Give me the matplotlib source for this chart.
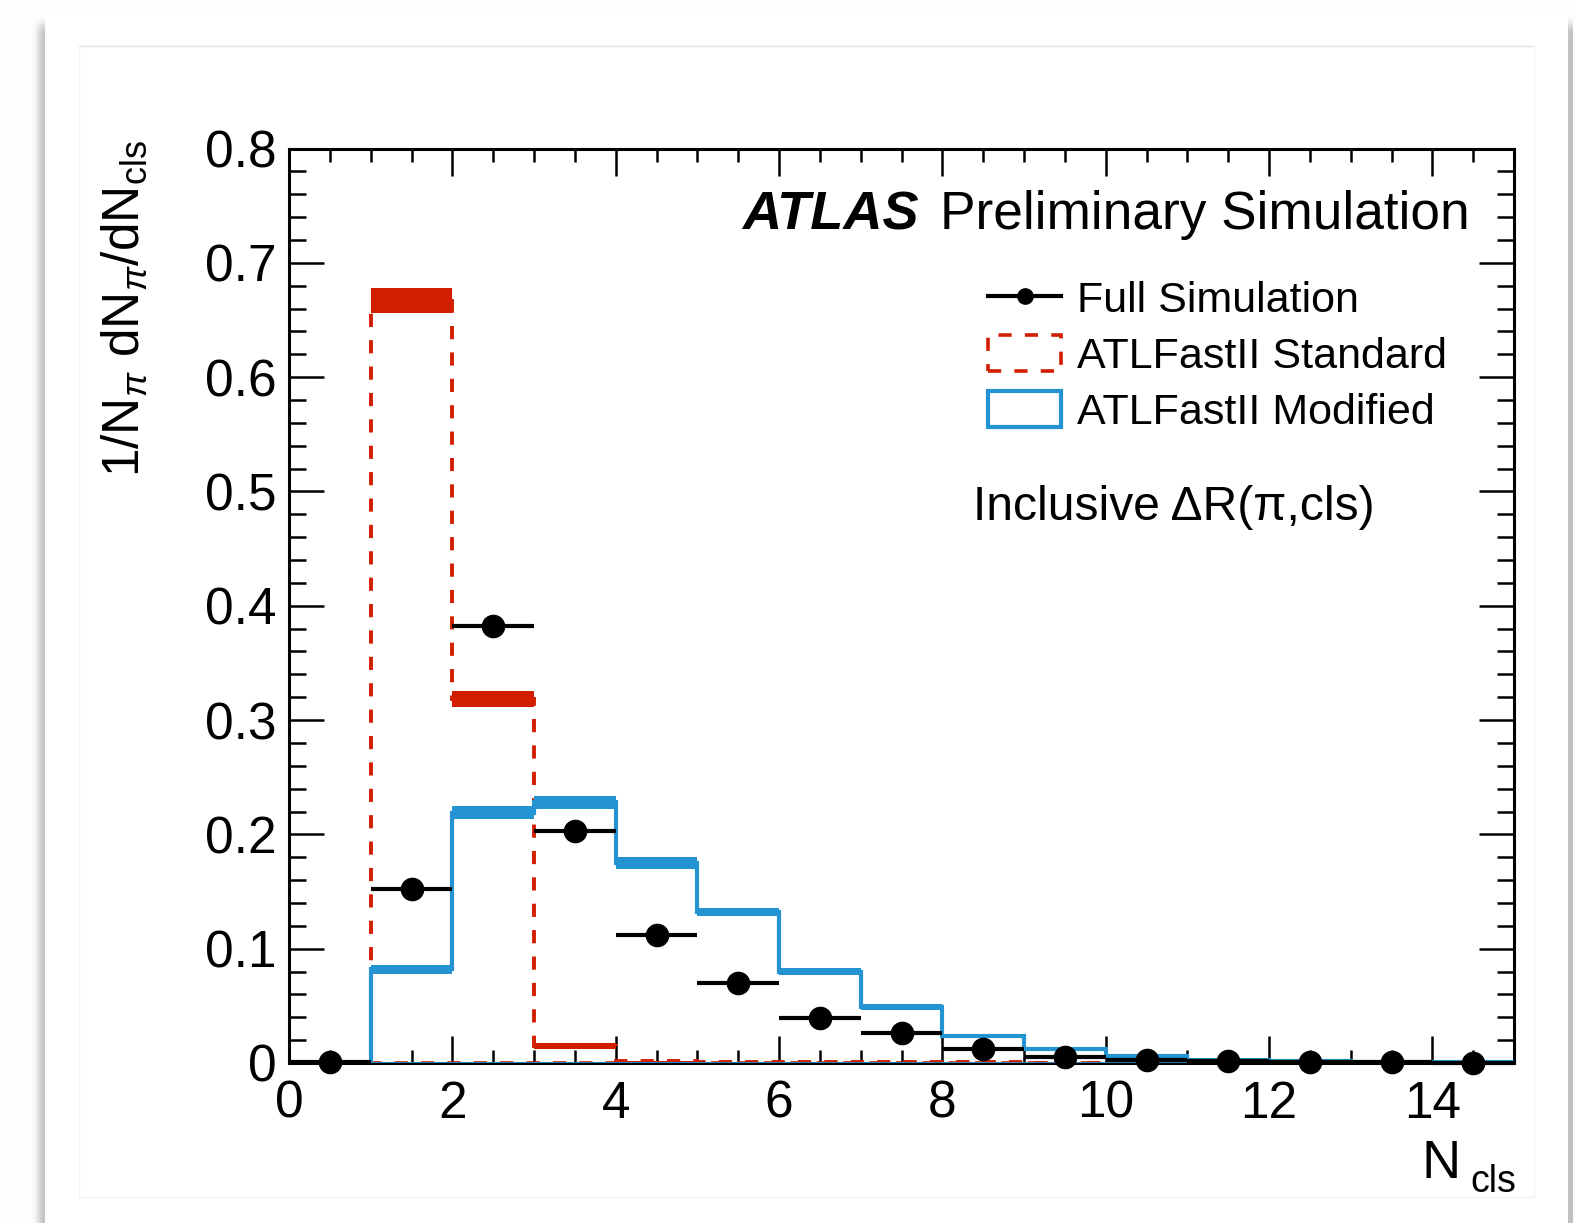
import numpy as np
import matplotlib
matplotlib.use("Agg")
import matplotlib.pyplot as plt
from matplotlib.lines import Line2D
from matplotlib.patches import Patch

plt.rcParams["font.family"] = ["Liberation Sans", "DejaVu Sans"]
plt.rcParams["mathtext.fontset"] = "custom"
plt.rcParams["mathtext.rm"] = "Liberation Sans"
plt.rcParams["mathtext.it"] = "Liberation Sans:italic"
plt.rcParams["mathtext.bf"] = "Liberation Sans:bold"
plt.rcParams["lines.scale_dashes"] = False

# ---- data: normalised N_cls distributions -------------------------------
bin_edges = np.arange(0, 16)
bin_centers = bin_edges[:-1] + 0.5

full_sim = [0.0005, 0.152, 0.382, 0.203, 0.112, 0.070, 0.039, 0.026,
            0.012, 0.005, 0.003, 0.0015, 0.001, 0.0006, 0.0004]

afii_standard = [0.0, 0.667, 0.318, 0.015, 0.0015, 0.001, 0.0008, 0.0006,
                 0.0005, 0.0004, 0.0003, 0.0002, 0.0001, 0.0001, 0.0]
afii_standard_err = [0.0, 0.011, 0.007, 0.0025, 0.0003, 0.0002, 0.0002, 0.0001,
                     0.0001, 0.0001, 0.0001, 0.0, 0.0, 0.0, 0.0]

afii_modified = [0.0, 0.082, 0.219, 0.228, 0.175, 0.132, 0.080, 0.049,
                 0.0235, 0.012, 0.006, 0.003, 0.0015, 0.001, 0.0005]
afii_modified_err = [0.0, 0.004, 0.0057, 0.006, 0.0053, 0.0038, 0.003, 0.0025,
                     0.002, 0.0015, 0.001, 0.001, 0.0007, 0.0005, 0.0004]

x_ticks = [0, 2, 4, 6, 8, 10, 12, 14]
y_ticks = [0, 0.1, 0.2, 0.3, 0.4, 0.5, 0.6, 0.7, 0.8]
y_tick_labels = ["0", "0.1", "0.2", "0.3", "0.4", "0.5", "0.6", "0.7", "0.8"]

RED = "#d21e00"
BLUE = "#2394d1"

W, H = 1573, 1223
fig = plt.figure(figsize=(W / 100, H / 100), dpi=100)

# ---- page background with a soft drop shadow -----------------------------
yy, xx = np.mgrid[0:H, 0:W]
sx = 0.5 * (np.tanh((xx - 38) / 4.0) - np.tanh((xx - 1590) / 4.0))
sy = 0.5 * (1 + np.tanh((yy - 24) / 6.0))
shade = 1 - 0.24 * sx * sy
page = (xx >= 45) & (xx < 1568) & (yy >= 13)
shade[page] = 1.0
bgax = fig.add_axes([0, 0, 1, 1], zorder=-10)
bgax.imshow(np.dstack([shade] * 3), extent=(0, W, H, 0), aspect="auto",
            interpolation="nearest")
bgax.plot([79, 1534], [46, 46], color="0.88", lw=1.0)
bgax.plot([79, 79], [46, 1197], color="0.96", lw=1.0)
bgax.plot([79, 1534], [1197, 1197], color="0.95", lw=1.0)
bgax.plot([1534, 1534], [46, 1197], color="0.96", lw=1.0)
bgax.set_xlim(0, W)
bgax.set_ylim(H, 0)
bgax.axis("off")

# ---- main frame ------------------------------------------------------------
AX_L, AX_R, AX_T, AX_B = 289, 1514, 148.5, 1063
ax = fig.add_axes([AX_L / W, 1 - AX_B / H, (AX_R - AX_L) / W, (AX_B - AX_T) / H])
ax.set_xlim(0, 15)
ax.set_ylim(0, 0.8)

# ATLFastII Standard: dashed outline with uncertainty band
std = np.asarray(afii_standard)
std_err = np.asarray(afii_standard_err)
ax.stairs(std, bin_edges, baseline=0, color=RED, lw=2.8, ls=(0, (9.5, 9.5)),
          zorder=2)
ax.hlines(0, bin_edges[0], bin_edges[-1], color=RED, lw=2.6,
          ls=(0, (9.5, 9.5)), zorder=2)
ax.bar(bin_centers, 2 * std_err, bottom=std - std_err, width=1.0,
       color=RED, lw=0, zorder=3)

# ATLFastII Modified: solid outline with uncertainty band
mod = np.asarray(afii_modified)
mod_err = np.asarray(afii_modified_err)
ax.stairs(mod, bin_edges, baseline=0, color=BLUE, lw=3.0, zorder=4)
ax.hlines(0, bin_edges[0], bin_edges[-1], color=BLUE, lw=2.0, zorder=4)
ax.bar(bin_centers, 2 * mod_err, bottom=mod - mod_err, width=1.0,
       color=BLUE, lw=0, zorder=5)

# Full simulation: markers with bin-width horizontal bars
ax.errorbar(bin_centers, full_sim, xerr=0.5, fmt="o", color="black",
            ms=16, elinewidth=3.0, capsize=0, zorder=6, clip_on=False)

# ---- axes styling ----------------------------------------------------------
for sp in ax.spines.values():
    sp.set_linewidth(2.2)
ax.set_xticks(x_ticks)
ax.set_xticklabels([str(t) for t in x_ticks])
ax.set_xticks(np.arange(0, 15.01, 0.5), minor=True)
ax.set_yticks(y_ticks)
ax.set_yticklabels(y_tick_labels)
ax.set_yticks(np.arange(0, 0.801, 0.02), minor=True)
ax.tick_params(which="both", direction="in", top=True, right=True, width=1.8)
ax.tick_params(axis="x", which="major", length=19.5, pad=12, labelsize=37)
ax.tick_params(axis="x", which="minor", length=9.5)
ax.tick_params(axis="y", which="major", length=25, pad=9, labelsize=37)
ax.tick_params(axis="y", which="minor", length=12.5)

# ---- titles and annotations -------------------------------------------------
fig.text(125 / W, 1 - 140 / H, r"1/N$_{\pi}$ dN$_{\pi}$/dN$_{\mathregular{cls}}$",
         rotation=90, ha="center", va="top", fontsize=37)
fig.text(1461 / W, 1 - 1178 / H, "N", ha="right", va="baseline", fontsize=39)
fig.text(1516 / W, 1 - 1192 / H, "cls", ha="right", va="baseline", fontsize=27)

fig.text(742 / W, 1 - 229 / H, "ATLAS", fontsize=39, fontweight="bold",
         fontstyle="italic", ha="left", va="baseline")
fig.text(1470 / W, 1 - 229 / H, "Preliminary Simulation", fontsize=38.3,
         ha="right", va="baseline")
fig.text(973 / W, 1 - 520 / H, "Inclusive \u0394R(\u03c0,cls)", fontsize=34.6,
         ha="left", va="baseline")

handles = [
    Line2D([], [], color="black", lw=3.0, marker="o", ms=11),
    Patch(facecolor="none", edgecolor=RED, lw=2.6, ls=(0, (9.5, 9.5))),
    Patch(facecolor="none", edgecolor=BLUE, lw=3.0, joinstyle="round"),
]
labels = ["Full Simulation", "ATLFastII Standard", "ATLFastII Modified"]
fig.legend(handles, labels, loc="upper left",
           bbox_to_anchor=(988 / W, 1 - 279 / H), frameon=False,
           fontsize=31, handlelength=1.7, handleheight=0.93,
           handletextpad=0.36, labelspacing=0.32, borderpad=0,
           borderaxespad=0)

fig.savefig("out.png", dpi=100)
